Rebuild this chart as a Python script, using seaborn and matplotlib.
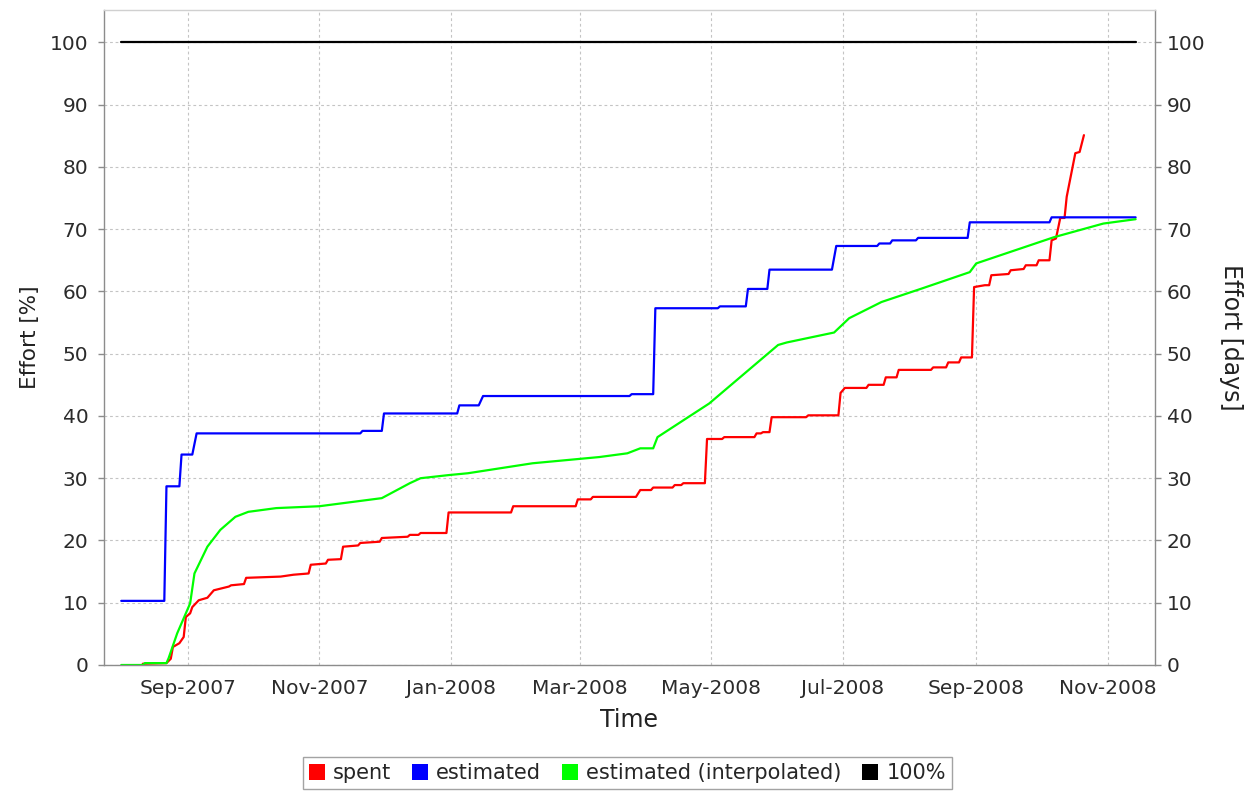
import matplotlib
matplotlib.use("Agg")
import matplotlib.pyplot as plt
import matplotlib.dates as mdates
from matplotlib.patches import Patch
import seaborn as sns
import pandas as pd

# ---- data ----
blue_dates = ["2007-08-01", "2007-08-21", "2007-08-22", "2007-08-28", "2007-08-29", "2007-09-03",
              "2007-09-05", "2007-11-20", "2007-11-21", "2007-11-30", "2007-12-01", "2008-01-04",
              "2008-01-05", "2008-01-14", "2008-01-16", "2008-03-24", "2008-03-25", "2008-04-04",
              "2008-04-05", "2008-05-04", "2008-05-05", "2008-05-17", "2008-05-18", "2008-05-27",
              "2008-05-28", "2008-06-26", "2008-06-28", "2008-07-17", "2008-07-18", "2008-07-23",
              "2008-07-24", "2008-08-04", "2008-08-05", "2008-08-28", "2008-08-29", "2008-10-05",
              "2008-10-06", "2008-11-14"]
blue_vals = [10.3, 10.3, 28.7, 28.7, 33.8, 33.8,
             37.2, 37.2, 37.6, 37.6, 40.4, 40.4,
             41.7, 41.7, 43.2, 43.2, 43.5, 43.5,
             57.3, 57.3, 57.6, 57.6, 60.4, 60.4,
             63.5, 63.5, 67.3, 67.3, 67.7, 67.7,
             68.2, 68.2, 68.6, 68.6, 71.1, 71.1,
             71.9, 71.9]

red_dates = ["2007-08-11", "2007-08-22", "2007-08-24", "2007-08-25", "2007-08-28", "2007-08-30",
             "2007-08-31", "2007-09-02", "2007-09-03", "2007-09-06", "2007-09-10", "2007-09-13",
             "2007-09-20", "2007-09-21", "2007-09-27", "2007-09-28", "2007-10-14", "2007-10-20",
             "2007-10-27", "2007-10-28", "2007-11-04", "2007-11-05", "2007-11-11", "2007-11-12",
             "2007-11-19", "2007-11-20", "2007-11-29", "2007-11-30", "2007-12-12", "2007-12-13",
             "2007-12-17", "2007-12-18", "2007-12-30", "2007-12-31", "2008-01-29", "2008-01-30",
             "2008-02-28", "2008-02-29", "2008-03-06", "2008-03-07", "2008-03-27", "2008-03-29",
             "2008-04-03", "2008-04-04", "2008-04-13", "2008-04-14", "2008-04-17", "2008-04-18",
             "2008-04-28", "2008-04-29", "2008-05-06", "2008-05-07", "2008-05-21", "2008-05-22",
             "2008-05-24", "2008-05-25", "2008-05-28", "2008-05-29", "2008-06-14", "2008-06-15",
             "2008-06-29", "2008-06-30", "2008-07-02", "2008-07-12", "2008-07-13", "2008-07-20",
             "2008-07-21", "2008-07-26", "2008-07-27", "2008-08-11", "2008-08-12", "2008-08-18",
             "2008-08-19", "2008-08-24", "2008-08-25", "2008-08-30", "2008-08-31", "2008-09-05",
             "2008-09-07", "2008-09-08", "2008-09-16", "2008-09-17", "2008-09-23", "2008-09-24",
             "2008-09-29", "2008-09-30", "2008-10-05", "2008-10-06", "2008-10-08", "2008-10-09",
             "2008-10-10", "2008-10-12", "2008-10-13", "2008-10-17", "2008-10-19", "2008-10-21"]
red_vals = [0.2, 0.3, 1.0, 2.9, 3.5, 4.5,
            7.7, 8.3, 9.3, 10.4, 10.8, 12.0,
            12.6, 12.8, 13.0, 14.0, 14.2, 14.5,
            14.7, 16.1, 16.3, 16.9, 17.0, 19.0,
            19.2, 19.6, 19.8, 20.4, 20.6, 20.9,
            20.9, 21.2, 21.2, 24.5, 24.5, 25.5,
            25.5, 26.6, 26.6, 27.0, 27.0, 28.1,
            28.1, 28.5, 28.5, 28.9, 28.9, 29.2,
            29.2, 36.3, 36.3, 36.6, 36.6, 37.2,
            37.2, 37.4, 37.4, 39.8, 39.8, 40.1,
            40.1, 43.7, 44.5, 44.5, 45.0, 45.0,
            46.2, 46.2, 47.4, 47.4, 47.8, 47.8,
            48.6, 48.6, 49.4, 49.4, 60.7, 61.0,
            61.0, 62.6, 62.8, 63.4, 63.6, 64.2,
            64.2, 65.0, 65.0, 68.2, 68.5, 70.1,
            71.8, 71.8, 75.2, 82.2, 82.4, 85.1]

green_dates = ["2007-08-01", "2007-08-11", "2007-08-12", "2007-08-22", "2007-08-23", "2007-08-27",
               "2007-08-31", "2007-09-02", "2007-09-04", "2007-09-10", "2007-09-16", "2007-09-23",
               "2007-09-29", "2007-10-12", "2007-11-01", "2007-11-30", "2007-12-13", "2007-12-18",
               "2007-12-31", "2008-01-09", "2008-02-08", "2008-03-10", "2008-03-23", "2008-03-29",
               "2008-04-04", "2008-04-06", "2008-04-30", "2008-06-01", "2008-06-05", "2008-06-27",
               "2008-07-04", "2008-07-19", "2008-08-07", "2008-08-29", "2008-09-01", "2008-10-07",
               "2008-10-30", "2008-11-14"]
green_vals = [0.0, 0.0, 0.3, 0.3, 1.1, 5.1,
              8.3, 9.9, 14.7, 19.0, 21.7, 23.8,
              24.6, 25.2, 25.5, 26.8, 29.2, 30.0,
              30.5, 30.8, 32.4, 33.4, 34.0, 34.8,
              34.8, 36.6, 42.0, 51.4, 51.8, 53.4,
              55.7, 58.3, 60.5, 63.1, 64.5, 68.7,
              70.9, 71.6]

full_dates = ["2007-08-01", "2008-11-14"]
full_vals = [100.0, 100.0]

series_names = ["spent", "estimated", "estimated (interpolated)", "100%"]
series_colors = ["#ff0000", "#0000ff", "#00ff00", "#000000"]

y_ticks = list(range(0, 101, 10))
x_tick_dates = ["2007-09-01", "2007-11-01", "2008-01-01", "2008-03-01", "2008-05-01",
                "2008-07-01", "2008-09-01", "2008-11-01"]

# ---- plot ----
sns.set_style("white")
plt.rcParams["font.family"] = ["DejaVu Sans"]

fig = plt.figure(figsize=(12.45, 7.91), dpi=100)
ax = fig.add_axes([104 / 1245, 1 - 665 / 791, (1155 - 104) / 1245, (665 - 10) / 791])

def frame(dates, vals):
    return pd.DataFrame({"date": pd.to_datetime(dates), "value": vals})

data = [frame(red_dates, red_vals), frame(blue_dates, blue_vals),
        frame(green_dates, green_vals), frame(full_dates, full_vals)]

for df, col in zip(data, series_colors):
    sns.lineplot(data=df, x="date", y="value", color=col, linewidth=1.6,
                 estimator=None, sort=False, ax=ax, legend=False)

ax.set_xlim(pd.Timestamp("2007-07-24"), pd.Timestamp("2008-11-23"))
ax.set_ylim(0, 105.2)
ax.set_yticks(y_ticks)
ax.set_xticks(pd.to_datetime(x_tick_dates))
ax.xaxis.set_major_formatter(mdates.DateFormatter("%b-%Y"))

grid_col = "#c4c4c4"
ax.grid(True, color=grid_col, linestyle=(0, (2.5, 2.5)), linewidth=0.8)
for s in ax.spines.values():
    s.set_color("#8c8c8c")
    s.set_linewidth(1.0)
ax.spines["top"].set_color("#d0d0d0")

tick_col = "#2b2b2b"
ax.tick_params(axis="x", direction="out", length=4, width=1, color="#8c8c8c",
               labelsize=14.5, labelcolor=tick_col, pad=6)
ax.tick_params(axis="y", direction="out", length=4.3, width=1, color="#8c8c8c",
               labelsize=14.5, labelcolor=tick_col, pad=7)
ax.set_xlabel("Time", fontsize=17, color="#222222", labelpad=7)
ax.set_ylabel("Effort [%]", fontsize=15.5, color="#222222", labelpad=7)

ax2 = ax.twinx()
ax2.set_ylim(ax.get_ylim())
ax2.set_yticks(y_ticks)
ax2.tick_params(axis="y", direction="out", length=4.3, width=1, color="#8c8c8c",
                labelsize=14.5, labelcolor=tick_col, pad=4)
for s in ax2.spines.values():
    s.set_visible(False)
ax2.set_ylabel("Effort [days]", fontsize=17, color="#222222", rotation=-90, labelpad=27)

handles = [Patch(facecolor=c, edgecolor="none") for c in series_colors]
leg = fig.legend(handles, series_names, loc="center", bbox_to_anchor=(0.504, 0.0225),
                 ncol=4, frameon=True, fancybox=False, fontsize=15,
                 handlelength=0.75, handleheight=0.75, handletextpad=0.4, columnspacing=1.0,
                 borderpad=0.3, borderaxespad=0)
leg.get_frame().set_edgecolor("#8c8c8c")
leg.get_frame().set_linewidth(1.0)

fig.savefig("out.png", dpi=100, facecolor="white")
